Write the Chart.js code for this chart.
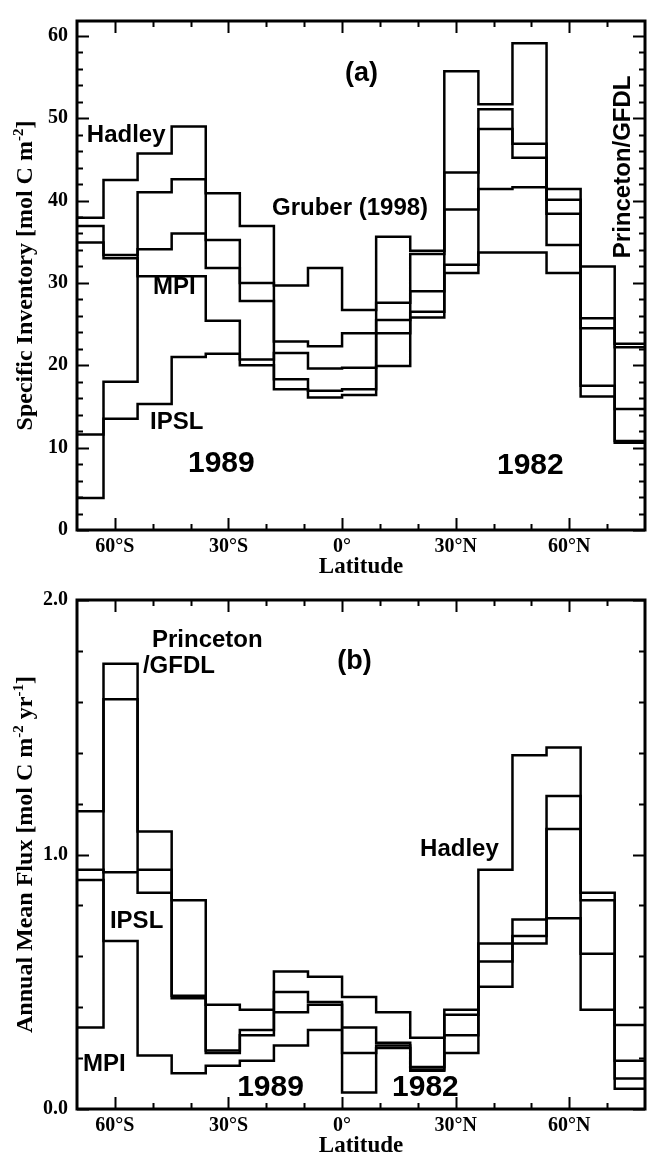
<!DOCTYPE html>
<html>
<head>
<meta charset="utf-8">
<title>Specific inventory and annual mean flux by latitude</title>
<script src="https://cdn.jsdelivr.net/npm/chart.js@4.4.1/dist/chart.umd.min.js"></script>
<style>
  html, body { margin: 0; padding: 0; background: #fff; }
  #wrap { position: relative; width: 648px; height: 1158px; }
  canvas { position: absolute; left: 0; }
  #chart-a { top: 0; }
  #chart-b { top: 579px; }
</style>
</head>
<body>
<div id="wrap">
  <canvas id="chart-a" width="648" height="579"></canvas>
  <canvas id="chart-b" width="648" height="579"></canvas>
</div>
<script>
'use strict';

/* ── BIN EDGES (latitude, degrees) ── */
const latEdges = [-70, -63, -54, -45, -36, -27, -18, -9, 0, 9, 18, 27, 36, 45, 54, 63, 72, 80];

/* ── PANEL A : specific inventory [mol C m-2], one value per bin ── */
const invHadley    = [37.9, 42.5, 45.7, 49.0, 40.9, 36.9, 22.9, 22.3, 23.9, 35.6, 33.9, 55.7, 51.7, 59.1, 41.4, 32.0, 22.6];
const invGruber    = [36.9, 33.4, 34.1, 36.0, 35.2, 30.0, 29.7, 31.8, 26.7, 27.6, 33.5, 43.4, 51.1, 46.9, 40.1, 25.7, 22.2];
const invMPI       = [34.9, 33.0, 30.8, 30.8, 25.4, 20.7, 21.5, 19.6, 19.7, 23.9, 26.5, 32.2, 41.4, 41.6, 34.6, 17.5, 10.8];
const invIPSL      = [11.6, 13.5, 15.3, 21.0, 21.4, 20.0, 17.1, 16.1, 16.4, 19.9, 25.8, 31.2, 33.7, 33.7, 31.2, 16.2, 10.6];
const invPrinceton = [ 3.9, 18.0, 41.0, 42.6, 31.8, 27.8, 18.3, 16.9, 17.1, 25.5, 29.0, 38.9, 48.7, 45.2, 38.4, 24.5, 14.7];

/* ── PANEL B : annual mean flux [mol C m-2 yr-1] ── */
const fluxPrinceton = [0.32, 1.75, 1.09, 0.82, 0.41, 0.39, 0.54, 0.52, 0.44, 0.38, 0.28, 0.39, 0.65, 0.745, 1.23, 0.82, 0.19];
const fluxHadley    = [1.17, 1.61, 0.94, 0.445, 0.23, 0.31, 0.46, 0.42, 0.32, 0.26, 0.165, 0.37, 0.94, 1.39, 1.42, 0.85, 0.33];
const fluxIPSL      = [0.94, 0.93, 0.85, 0.435, 0.22, 0.29, 0.38, 0.41, 0.22, 0.25, 0.155, 0.29, 0.58, 0.68, 1.10, 0.61, 0.12];
const fluxMPI       = [0.90, 0.66, 0.21, 0.14, 0.17, 0.19, 0.25, 0.31, 0.065, 0.24, 0.15, 0.22, 0.48, 0.65, 0.75, 0.39, 0.08];

/* ── TICKS ── */
const latMajor  = [-60, -30, 0, 30, 60];
const latMinor  = [-50, -40, -20, -10, 10, 20, 40, 50, 70];
const invMajor  = [0, 10, 20, 30, 40, 50, 60];
const invMinor  = [2, 4, 6, 8, 12, 14, 16, 18, 22, 24, 26, 28, 32, 34, 36, 38, 42, 44, 46, 48, 52, 54, 56, 58];
const fluxMajor = [0, 1, 2];
const fluxMinor = [0.2, 0.4, 0.6, 0.8, 1.2, 1.4, 1.6, 1.8];

const SERIF = '"Liberation Serif", "Times New Roman", serif';
const SANS  = '"Liberation Sans", Arial, Helvetica, sans-serif';

const fmtLat = v => v === 0 ? '0°' : Math.abs(v) + '°' + (v < 0 ? 'S' : 'N');

/* histogram bins -> step points (last value repeated at the right edge) */
const stepPoints = vals => latEdges.map((e, i) => ({ x: e, y: vals[Math.min(i, vals.length - 1)] }));

const stepSet = (label, vals) => ({
  label,
  data: stepPoints(vals),
  borderColor: '#000',
  borderWidth: 2.5,
  pointRadius: 0,
  fill: false,
  stepped: 'before',
});

/* ── FRAME, INWARD TICKS, TITLES, LABELS ── */
const panelDecor = {
  id: 'panelDecor',
  afterDatasetsDraw(chart, args, o) {
    const { ctx, chartArea: a, scales: { x, y } } = chart;
    ctx.save();
    ctx.strokeStyle = '#000';
    ctx.fillStyle = '#000';

    ctx.lineWidth = 2;
    const vTicks = (vals, len) => vals.forEach(v => {
      const px = Math.round(x.getPixelForValue(v)) + 0.5;
      ctx.beginPath();
      ctx.moveTo(px, a.bottom); ctx.lineTo(px, a.bottom - len);
      ctx.moveTo(px, a.top);    ctx.lineTo(px, a.top + len);
      ctx.stroke();
    });
    const hTicks = (vals, len) => vals.forEach(v => {
      const py = Math.round(y.getPixelForValue(v)) + 0.5;
      ctx.beginPath();
      ctx.moveTo(a.left, py);  ctx.lineTo(a.left + len, py);
      ctx.moveTo(a.right, py); ctx.lineTo(a.right - len, py);
      ctx.stroke();
    });
    vTicks(latMajor, 12);
    vTicks(latMinor, 6);
    hTicks(o.yMajor, 12);
    hTicks(o.yMinor, 6);

    ctx.lineWidth = 3;
    ctx.strokeRect(a.left, a.top, a.right - a.left, a.bottom - a.top);

    /* x title */
    ctx.font = 'bold 23px ' + SERIF;
    ctx.textAlign = 'center';
    ctx.textBaseline = 'alphabetic';
    ctx.fillText('Latitude', (a.left + a.right) / 2, a.bottom + 43);

    /* y title with superscripts */
    const big = 'bold 24px ' + SERIF, sup = 'bold 15px ' + SERIF;
    let total = 0;
    o.yTitle.forEach(s => { ctx.font = s.sup ? sup : big; total += ctx.measureText(s.t).width; });
    ctx.translate(32, (a.top + a.bottom) / 2);
    ctx.rotate(-Math.PI / 2);
    ctx.textAlign = 'left';
    let cx = -total / 2;
    o.yTitle.forEach(s => {
      ctx.font = s.sup ? sup : big;
      ctx.fillText(s.t, cx, s.sup ? -9 : 0);
      cx += ctx.measureText(s.t).width;
    });
    ctx.setTransform(1, 0, 0, 1, 0, 0);

    /* in-plot labels */
    o.notes.forEach(n => {
      ctx.font = 'bold ' + n.size + 'px ' + SANS;
      ctx.textAlign = 'left';
      ctx.textBaseline = 'alphabetic';
      const px = x.getPixelForValue(n.lat), py = y.getPixelForValue(n.val);
      if (n.vertical) {
        ctx.translate(px, py);
        ctx.rotate(-Math.PI / 2);
        ctx.fillText(n.text, 0, 0);
        ctx.setTransform(1, 0, 0, 1, 0, 0);
      } else {
        ctx.fillText(n.text, px, py);
      }
    });
    ctx.restore();
  },
};

function makePanel(canvasId, datasets, yMax, yMajor, yMinor, yFmt, padTop, decor) {
  return new Chart(document.getElementById(canvasId), {
    type: 'line',
    data: { datasets },
    options: {
      responsive: false,
      devicePixelRatio: 1,
      animation: false,
      events: [],
      layout: { padding: { top: padTop, right: 3, left: 0, bottom: 0 } },
      plugins: {
        legend: { display: false },
        tooltip: { enabled: false },
        panelDecor: Object.assign({ yMajor, yMinor }, decor),
      },
      scales: {
        x: {
          type: 'linear',
          min: -70,
          max: 80,
          grid: { display: false, drawTicks: false },
          border: { display: false },
          afterBuildTicks: s => { s.ticks = latMajor.map(v => ({ value: v })); },
          afterFit: s => { s.height = 49; },
          ticks: {
            autoSkip: false,
            maxRotation: 0,
            padding: 5,
            color: '#000',
            font: { family: SERIF, size: 20, weight: 'bold' },
            callback: v => fmtLat(v),
          },
        },
        y: {
          min: 0,
          max: yMax,
          grid: { display: false, drawTicks: false },
          border: { display: false },
          afterBuildTicks: s => { s.ticks = yMajor.map(v => ({ value: v })); },
          afterFit: s => { s.width = 77; },
          ticks: {
            autoSkip: false,
            padding: 9,
            color: '#000',
            font: { family: SERIF, size: 20, weight: 'bold' },
            callback: yFmt,
          },
        },
      },
    },
    plugins: [panelDecor],
  });
}

/* ── (a) SPECIFIC INVENTORY ── */
makePanel('chart-a', [
  stepSet('Hadley', invHadley),
  stepSet('Gruber (1998)', invGruber),
  stepSet('MPI', invMPI),
  stepSet('IPSL', invIPSL),
  stepSet('Princeton/GFDL', invPrinceton),
], 61.8, invMajor, invMinor, v => String(v), 12, {
  yTitle: [{ t: 'Specific Inventory [mol C m' }, { t: '-2', sup: true }, { t: ']' }],
  notes: [
    { text: '(a)', lat: 0.8, val: 54.5, size: 27 },
    { text: 'Hadley', lat: -67.4, val: 47.1, size: 24 },
    { text: 'Gruber (1998)', lat: -18.5, val: 38.2, size: 24 },
    { text: 'MPI', lat: -49.9, val: 28.6, size: 24 },
    { text: 'IPSL', lat: -50.7, val: 12.3, size: 24 },
    { text: '1989', lat: -40.7, val: 7.0, size: 30 },
    { text: '1982', lat: 40.9, val: 6.8, size: 30 },
    { text: 'Princeton/GFDL', lat: 76.0, val: 33.0, size: 24, vertical: true },
  ],
});

/* ── (b) ANNUAL MEAN FLUX ── */
makePanel('chart-b', [
  stepSet('Princeton/GFDL', fluxPrinceton),
  stepSet('Hadley', fluxHadley),
  stepSet('IPSL', fluxIPSL),
  stepSet('MPI', fluxMPI),
], 2.0, fluxMajor, fluxMinor, v => v.toFixed(1), 13, {
  yTitle: [
    { t: 'Annual Mean Flux [mol C m' }, { t: '-2', sup: true },
    { t: ' yr' }, { t: '-1', sup: true }, { t: ']' },
  ],
  notes: [
    { text: 'Princeton', lat: -50.2, val: 1.815, size: 24 },
    { text: '/GFDL', lat: -52.6, val: 1.714, size: 24 },
    { text: '(b)', lat: -1.3, val: 1.73, size: 27 },
    { text: 'Hadley', lat: 20.6, val: 0.996, size: 24 },
    { text: 'IPSL', lat: -61.3, val: 0.71, size: 24 },
    { text: 'MPI', lat: -68.4, val: 0.151, size: 24 },
    { text: '1989', lat: -27.7, val: 0.05, size: 30 },
    { text: '1982', lat: 13.2, val: 0.05, size: 30 },
  ],
});
</script>
</body>
</html>
